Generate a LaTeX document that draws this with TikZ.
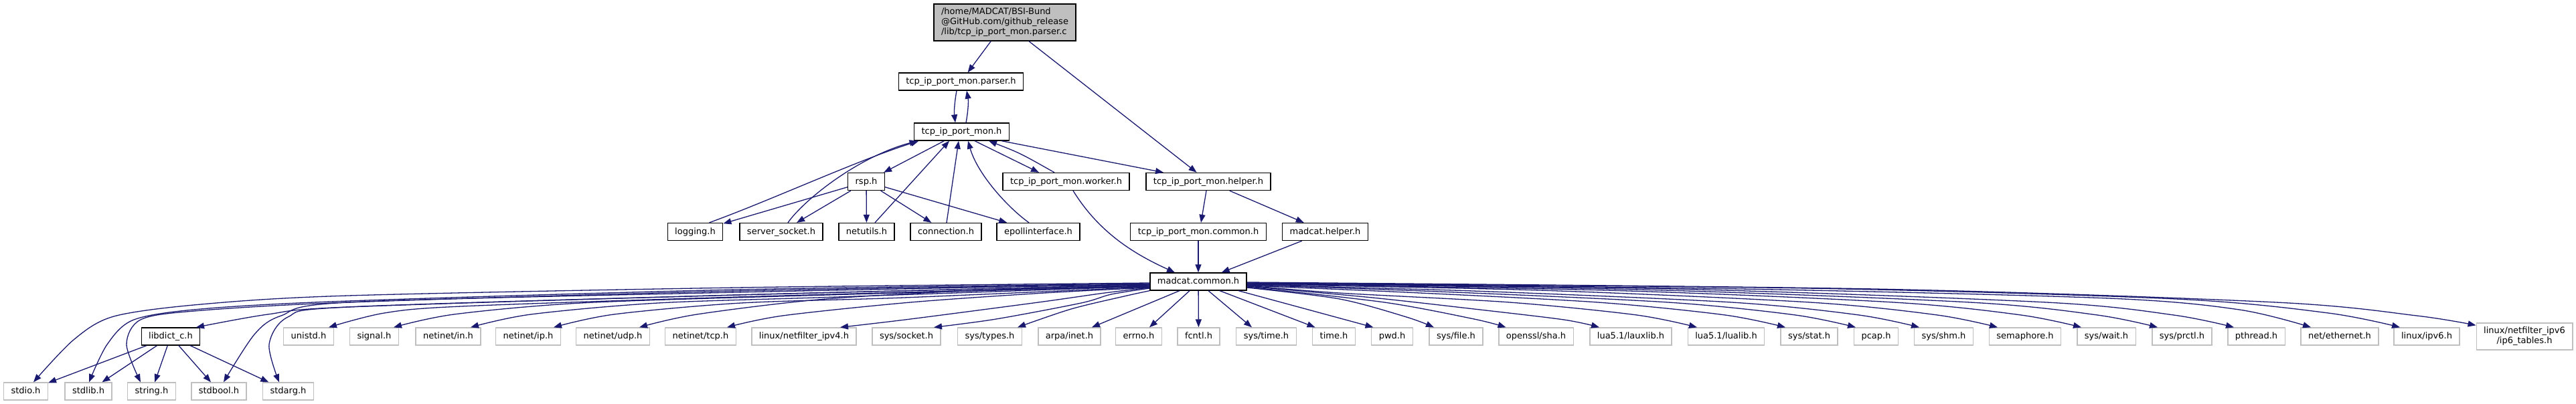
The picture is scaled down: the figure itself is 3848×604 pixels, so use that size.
\documentclass[tikz,border=0pt]{standalone}
\usepackage{fontspec}
\setmainfont{DejaVu Sans}
\usetikzlibrary{arrows.meta}
\definecolor{edgec}{HTML}{191970}
\definecolor{grayb}{HTML}{BFBFBF}
\begin{document}
\begin{tikzpicture}[x=1pt,y=-1pt,
  box/.style={font=\fontsize{13}{15}\selectfont, inner xsep=11pt, inner ysep=0pt, minimum height=26pt, line width=1.3pt, fill=white},
  one/.style={text height=10pt, text depth=3pt},
  proj/.style={box, one, draw=black},
  sys/.style={box, one, draw=grayb},
  e/.style={draw=edgec, line width=1.3pt, -{Triangle[length=12pt,width=9pt]}},
  sm/.style={smooth, tension=0.5}]
\useasboundingbox (0,0) rectangle (3848,604);
% top part
\node[box, draw=black, fill=grayb, align=left, minimum height=55pt] (root) at (1501,33.5)
  {/home/MADCAT/BSI-Bund\\@GitHub.com/github\_release\\/lib/tcp\_ip\_port\_mon.parser.c};
\node[proj] (parser) at (1435.5,122) {tcp\_ip\_port\_mon.parser.h};
\node[proj] (tpm) at (1436.5,197) {tcp\_ip\_port\_mon.h};
\node[proj] (rsp) at (1294,271.5) {rsp.h};
\node[proj] (worker) at (1592.5,271.5) {tcp\_ip\_port\_mon.worker.h};
\node[proj] (helper) at (1805,271.5) {tcp\_ip\_port\_mon.helper.h};
\node[proj] (logging) at (1038.5,346.5) {logging.h};
\node[proj] (ssock) at (1167,346.5) {server\_socket.h};
\node[proj] (netutils) at (1294.5,346.5) {netutils.h};
\node[proj] (conn) at (1413,346.5) {connection.h};
\node[proj] (epoll) at (1551,346.5) {epollinterface.h};
\node[proj] (tcommon) at (1790,346.5) {tcp\_ip\_port\_mon.common.h};
\node[proj] (mhelper) at (1979.5,346.5) {madcat.helper.h};
\node[proj] (mc) at (1790,421) {madcat.common.h};
% row 1
\node[proj] (libdict) at (255,503) {libdict\_c.h};
\node[sys] (unistd) at (461,503) {unistd.h};
\node[sys] (signal) at (559,503) {signal.h};
\node[sys] (netin) at (669.5,503) {netinet/in.h};
\node[sys] (netip) at (789,503) {netinet/ip.h};
\node[sys] (udp) at (915.5,503) {netinet/udp.h};
\node[sys] (tcp) at (1046.5,503) {netinet/tcp.h};
\node[sys] (nf4) at (1201,503) {linux/netfilter\_ipv4.h};
\node[sys] (socket) at (1354,503) {sys/socket.h};
\node[sys] (types) at (1478.5,503) {sys/types.h};
\node[sys] (inet) at (1597.5,503) {arpa/inet.h};
\node[sys] (errno) at (1701,503) {errno.h};
\node[sys] (fcntl) at (1790.5,503) {fcntl.h};
\node[sys] (systime) at (1891.5,503) {sys/time.h};
\node[sys] (time) at (1992.5,503) {time.h};
\node[sys] (pwd) at (2079.5,503) {pwd.h};
\node[sys] (sysfile) at (2175,503) {sys/file.h};
\node[sys] (sha) at (2294.5,503) {openssl/sha.h};
\node[sys] (lauxlib) at (2436,503) {lua5.1/lauxlib.h};
\node[sys] (lualib) at (2578.5,503) {lua5.1/lualib.h};
\node[sys] (stat) at (2702.5,503) {sys/stat.h};
\node[sys] (pcap) at (2802.5,503) {pcap.h};
\node[sys] (shm) at (2903.5,503) {sys/shm.h};
\node[sys] (sem) at (3025,503) {semaphore.h};
\node[sys] (wait) at (3146.5,503) {sys/wait.h};
\node[sys] (prctl) at (3259.5,503) {sys/prctl.h};
\node[sys] (pthread) at (3370.5,503) {pthread.h};
\node[sys] (ether) at (3495,503) {net/ethernet.h};
\node[sys] (ipv6) at (3625,503) {linux/ipv6.h};
\node[box, draw=grayb, align=center, minimum height=40pt] (ip6) at (3771,503) {linux/netfilter\_ipv6\\/ip6\_tables.h};
% row 2
\node[sys] (stdio) at (38.5,585) {stdio.h};
\node[sys] (stdlib) at (132,585) {stdlib.h};
\node[sys] (string) at (226.5,585) {string.h};
\node[sys] (stdbool) at (327,585) {stdbool.h};
\node[sys] (stdarg) at (430.5,585) {stdarg.h};
% upper edges
\draw[e] (root) -- (parser);
\draw[e] (root) -- (helper);
\draw[e] ([xshift=-6.5]parser.south) .. controls (1426,152) and (1425,167) .. ([xshift=-9.5]tpm.north);
\draw[e] ([xshift=6.5]tpm.north) .. controls (1446,167) and (1447,152) .. ([xshift=8.5]parser.south);
\draw[e] (tpm) -- (rsp);
\draw[e] ([xshift=19.5]tpm.south) -- ([xshift=-40.5]worker.north);
\draw[e] ([xshift=-17.5]worker.north) .. controls (1524,229) .. ([xshift=40.5]tpm.south);
\draw[e] ([xshift=59.5]tpm.south) -- ([xshift=-67]helper.north);
\draw[e] ([xshift=21]logging.north) .. controls (1150,300) and (1280,240) .. ([xshift=-64]tpm.south);
\draw[e] ([xshift=10]ssock.north) .. controls (1200,300) and (1280,235) .. ([xshift=-66]tpm.south);
\draw[e] ([xshift=12.5]netutils.north) -- ([xshift=-18.5]tpm.south);
\draw[e] ([xshift=1]conn.north) -- ([xshift=-4.5]tpm.south);
\draw[e] ([xshift=-14]epoll.north) .. controls (1505,310) and (1460,260) .. ([xshift=9.5]tpm.south);
\draw[e] (rsp) -- (logging);
\draw[e] (rsp) -- (ssock);
\draw[e] (rsp) -- (netutils);
\draw[e] (rsp) -- (conn);
\draw[e] (rsp) -- (epoll);
\draw[e] ([xshift=10.5]worker.south) .. controls (1640,345) and (1690,378) .. ([xshift=-35]mc.north);
\draw[e] ([xshift=-3]helper.south) -- ([xshift=4]tcommon.north);
\draw[e] (helper) -- (mhelper);
\draw[e] (tcommon) -- (mc);
\draw[e] (mhelper) -- (mc);
% libdict edges
\draw[e] (libdict) -- (stdio);
\draw[e] (libdict) -- (stdlib);
\draw[e] (libdict) -- (string);
\draw[e] (libdict) -- (stdbool);
\draw[e] (libdict) -- (stdarg);
% madcat.common.h to the left
\draw[e] plot[sm] coordinates {([yshift=-2]mc.west) (1100,430) (520,442) (300,455) (170,473) (110,508) ([xshift=11.5]stdio.north)};
\draw[e] plot[sm] coordinates {([yshift=-3]mc.west) (1100,433) (520,450) (300,462) (200,478) (160,515) ([xshift=1]stdlib.north)};
\draw[e] plot[sm] coordinates {([yshift=-4]mc.west) (1100,435) (520,452) (290,465) (210,478) (189,515) ([xshift=-16.5]string.north)};
\draw[e] plot[sm] coordinates {([yshift=-4]mc.west) (1100,437) (520,452) (420,472) (380,500) ([xshift=7]stdbool.north)};
\draw[e] plot[sm] coordinates {([yshift=-5]mc.west) (1100,441) (520,459) (430,474) (402,515) ([xshift=-13.5]stdarg.north)};
\draw[e] plot[sm] coordinates {([yshift=-5]mc.west) (1100,441) (520,459) (400,470) ([xshift=38]libdict.north)};
\draw[e] plot[sm] coordinates {([yshift=-6]mc.west) (1100,444) (689,458) (574,468) ([xshift=30]unistd.north)};
\draw[e] plot[sm] coordinates {([yshift=-7]mc.west) (1200,442) (868,453) (678,470) ([xshift=29]signal.north)};
\draw[e] plot[sm] coordinates {([yshift=-7]mc.west) (1250,444) (983,453) (793,470) ([xshift=33.5]netin.north)};
\draw[e] plot[sm] coordinates {([yshift=-8]mc.west) (1350,445) (1107,453) (917,470) ([xshift=38]netip.north)};
\draw[e] plot[sm] coordinates {([yshift=-8]mc.west) (1488,433) (1233,447) (1041,470) ([xshift=39.5]udp.north)};
\draw[e] plot[sm] coordinates {([yshift=-9]mc.west) (1560,438) (1360,452) (1169,472) ([xshift=39.5]tcp.north)};
\draw[e] plot[sm] coordinates {([yshift=-9]mc.west) (1650,438) (1551,452) (1360,477) ([xshift=54]nf4.north)};
\draw[e] plot[sm] coordinates {([yshift=-10]mc.west) (1660,440) (1615,453) (1488,477) ([xshift=41]socket.north)};
\draw[e] plot[sm] coordinates {(mc.south west) (1679,443) (1600,462) ([xshift=41.5]types.north)};
\draw[e] ([xshift=-28]mc.south) -- ([xshift=33.5]inet.north);
\draw[e] ([xshift=-13]mc.south) -- ([xshift=16]errno.north);
\draw[e] (mc) -- (fcntl);
% madcat.common.h to the right
\draw[e] ([xshift=15]mc.south) -- ([xshift=-21.5]systime.north);
\draw[e] ([xshift=32]mc.south) -- ([xshift=-28]time.north);
\draw[e] ([xshift=60]mc.south) -- ([xshift=-28]pwd.north);
\draw[e] plot[sm] coordinates {([yshift=-9]mc.east) (2001,447) (2101,474) ([xshift=-33]sysfile.north)};
\draw[e] plot[sm] coordinates {([yshift=-8]mc.east) (2068,452) (2202,477) ([xshift=-45]sha.north)};
\draw[e] plot[sm] coordinates {([yshift=-7]mc.east) (2050,445) (2202,462) (2336,478) ([xshift=-47]lauxlib.north)};
\draw[e] plot[sm] coordinates {([yshift=-6]mc.east) (2000,438) (2255,452) (2445,471) ([xshift=-43.5]lualib.north)};
\draw[e] plot[sm] coordinates {([yshift=-6]mc.east) (2100,437) (2387,452) (2577,471) ([xshift=-35.5]stat.north)};
\draw[e] plot[sm] coordinates {([yshift=-5]mc.east) (2150,436) (2492,452) (2682,471) ([xshift=-30.5]pcap.north)};
\draw[e] plot[sm] coordinates {([yshift=-5]mc.east) (2200,435) (2587,452) (2777,471) ([xshift=-36.5]shm.north)};
\draw[e] plot[sm] coordinates {([yshift=-4]mc.east) (2300,434) (2704,452) (2894,471) ([xshift=-41]sem.north)};
\draw[e] plot[sm] coordinates {([yshift=-4]mc.east) (2400,434) (2829,452) (3019,471) ([xshift=-37.5]wait.north)};
\draw[e] plot[sm] coordinates {([yshift=-3]mc.east) (2450,433) (2943,452) (3133,471) ([xshift=-36.5]prctl.north)};
\draw[e] plot[sm] coordinates {([yshift=-3]mc.east) (2500,432) (3057,452) (3247,471) ([xshift=-33.5]pthread.north)};
\draw[e] plot[sm] coordinates {([yshift=-2]mc.east) (2600,432) (3150,446) (3345,463) ([xshift=-43]ether.north)};
\draw[e] plot[sm] coordinates {([yshift=-2]mc.east) (2700,431) (3250,447) (3478,468) ([xshift=-40]ipv6.north)};
\draw[e] plot[sm] coordinates {([yshift=-1]mc.east) (2800,432) (3400,452) (3610,472) ([yshift=-4]ip6.north west)};
\end{tikzpicture}
\end{document}
